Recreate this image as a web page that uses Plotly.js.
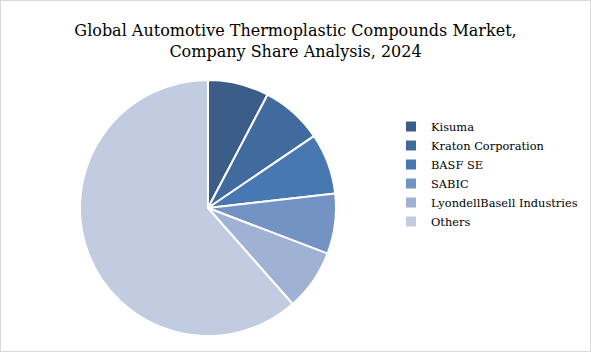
<!DOCTYPE html>
<html>
<head>
<meta charset="utf-8">
<script src="https://cdn.plot.ly/plotly-3.0.1.min.js"></script>
<style>
html,body{margin:0;padding:0;background:#fff;}
#chart{width:589px;height:350px;border:1px solid #d9d9d9;}
</style>
</head>
<body>
<div id="chart"></div>
<script>
const companies = ["Kisuma", "Kraton Corporation", "BASF SE", "SABIC", "LyondellBasell Industries", "Others"];
const shares = [7.7, 7.8, 7.7, 7.6, 7.7, 61.5];
const colors = ["#3b5e89", "#416b9e", "#4878b1", "#7393c4", "#a0b2d3", "#c1cce0"];

const W = 589, H = 350;
const cx = 207, cy = 207, r = 128;

const data = [{
  type: "pie",
  labels: companies,
  values: shares,
  sort: false,
  direction: "clockwise",
  rotation: 0,
  textinfo: "none",
  hoverinfo: "none",
  marker: { colors: colors, line: { color: "#ffffff", width: 2 } },
  domain: { x: [(cx - r) / W, (cx + r) / W], y: [1 - (cy + r) / H, 1 - (cy - r) / H] }
}];

const layout = {
  width: W, height: H,
  margin: { l: 0, r: 0, t: 0, b: 0 },
  paper_bgcolor: "#ffffff",
  font: { family: "DejaVu Serif, serif", color: "#000000" },
  title: {
    text: "Global Automotive Thermoplastic Compounds Market,<br>Company Share Analysis, 2024",
    font: { family: "DejaVu Serif, serif", size: 16, color: "#000000" },
    x: 0.5, xanchor: "center", y: 1 - 35 / H, yanchor: "top"
  },
  showlegend: true,
  legend: {
    x: 390 / W, y: 1 - 111 / H, xanchor: "left", yanchor: "top",
    font: { family: "DejaVu Serif, serif", size: 11.4, color: "#000000" },
    bgcolor: "rgba(0,0,0,0)", tracegroupgap: 0
  }
};

Plotly.newPlot("chart", data, layout, { staticPlot: true, displayModeBar: false });
</script>
</body>
</html>
